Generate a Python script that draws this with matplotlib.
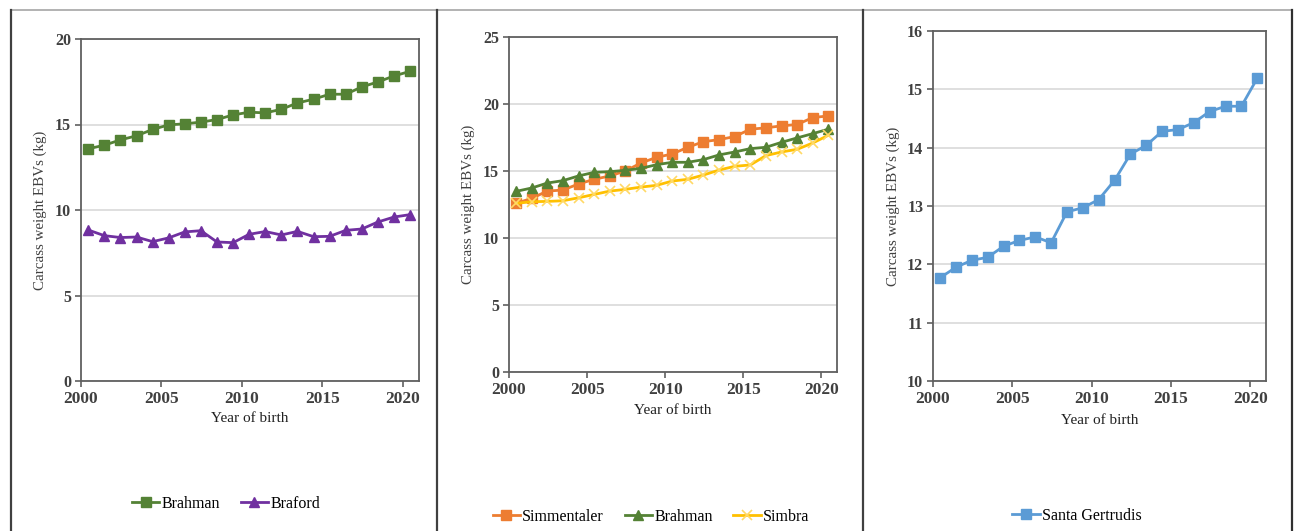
import numpy as np
import matplotlib
matplotlib.use("Agg")
import matplotlib.pyplot as plt
from matplotlib.lines import Line2D

plt.rcParams['font.family'] = ['Liberation Serif', 'DejaVu Serif']

# Carcass weight EBVs (kg) by year of birth
years = np.arange(2000, 2021)

brahman = [13.58, 13.79, 14.10, 14.34, 14.71, 14.98, 15.04, 15.14, 15.29, 15.56, 15.72,
           15.68, 15.89, 16.26, 16.48, 16.77, 16.77, 17.20, 17.49, 17.84, 18.11]
braford = [8.83, 8.50, 8.39, 8.42, 8.15, 8.37, 8.72, 8.79, 8.13, 8.09, 8.58,
           8.74, 8.54, 8.75, 8.44, 8.46, 8.81, 8.89, 9.30, 9.59, 9.73]
simmentaler = [12.58, 12.96, 13.50, 13.58, 14.03, 14.38, 14.63, 15.00, 15.60, 16.02, 16.27,
               16.77, 17.19, 17.34, 17.57, 18.12, 18.22, 18.37, 18.47, 18.99, 19.11]
brahman_b = [13.48, 13.73, 14.10, 14.28, 14.63, 14.90, 14.95, 15.05, 15.20, 15.47, 15.65,
             15.65, 15.85, 16.20, 16.42, 16.67, 16.77, 17.14, 17.47, 17.79, 18.12]
simbra = [12.58, 12.71, 12.73, 12.78, 13.00, 13.25, 13.50, 13.63, 13.80, 13.93, 14.25,
          14.38, 14.70, 15.07, 15.35, 15.45, 16.15, 16.42, 16.62, 17.09, 17.67]
santa_gertrudis = [11.77, 11.95, 12.07, 12.12, 12.31, 12.41, 12.47, 12.37, 12.90, 12.97, 13.11,
                   13.44, 13.89, 14.04, 14.28, 14.31, 14.43, 14.62, 14.71, 14.71, 15.19]

W, H = 1298, 531
fig = plt.figure(figsize=(W / 100, H / 100), dpi=100)

def px_axes(left, top, right, bottom):
    return fig.add_axes([left / W, 1 - bottom / H, (right - left) / W, (bottom - top) / H])

# points sit in the middle of each year interval
xpos = years + 0.45

text_col = '#404040'

def style(ax, ylim, ystep, px_bottom, px_h, label_y, ylab_x_frac):
    ax.set_xlim(2000, 2021)
    ax.set_ylim(*ylim)
    ax.set_xticks(np.arange(2000, 2021, 5))
    ax.set_yticks(np.arange(ylim[0], ylim[1] + 0.01, ystep))
    ax.yaxis.grid(True, color='#d9d9d9', lw=1.2)
    ax.set_axisbelow(True)
    for s in ax.spines.values():
        s.set_color('#606060')
        s.set_linewidth(1.3)
    ax.tick_params(direction='out', length=4, width=1.2, color='#606060',
                   labelcolor=text_col, pad=3)
    for lab in ax.get_xticklabels():
        lab.set_fontsize(12.5)
        lab.set_fontweight('bold')
    for lab in ax.get_yticklabels():
        lab.set_fontsize(11.5)
        lab.set_fontweight('bold')
    ax.set_xlabel('Year of birth', fontsize=11, color='#202020', va='center')
    ax.xaxis.set_label_coords(0.5, -(label_y - px_bottom) / px_h)
    ax.set_ylabel('Carcass weight EBVs (kg)', fontsize=10.8, color=text_col, va='center')
    ax.yaxis.set_label_coords(ylab_x_frac, 0.5)

def legend(ax, cx, cy, ncol):
    ax.legend(loc='center', bbox_to_anchor=(cx / W, 1 - cy / H), bbox_transform=fig.transFigure,
              ncol=ncol, frameon=False, fontsize=11.5, handlelength=1.7, handletextpad=0.15,
              columnspacing=1.3)

# Panel 1: Brahman and Braford
ax1 = px_axes(81, 39, 419, 381)
ax1.plot(xpos, brahman, color='#548235', lw=2, marker='s', ms=6.5, label='Brahman')
ax1.plot(xpos, braford, color='#7030A0', lw=2, marker='^', ms=7.5, label='Braford')
style(ax1, (0, 20), 5, 381, 342, 419, -0.121)
legend(ax1, 226, 504, 2)

# Panel 2: Simmentaler, Brahman and Simbra
ax2 = px_axes(509, 37, 837, 372)
ax2.plot(xpos, simmentaler, color='#ED7D31', lw=2, marker='s', ms=6.5, label='Simmentaler')
ax2.plot(xpos, brahman_b, color='#548235', lw=2, marker='^', ms=7.5, label='Brahman')
ax2.plot(xpos, simbra, color='#FFC000', lw=2, marker='x', ms=7, mew=1.2,
         mec='#FFD966', label='Simbra')
style(ax2, (0, 25), 5, 372, 335, 411, -0.125)
legend(ax2, 651, 517, 3)

# Panel 3: Santa Gertrudis
ax3 = px_axes(933, 31, 1266, 381)
ax3.plot(xpos, santa_gertrudis, color='#5B9BD5', lw=2, marker='s', ms=6.5, label='Santa Gertrudis')
style(ax3, (10, 16), 1, 381, 350, 420, -0.12)
legend(ax3, 1077, 516, 1)

# table-style frame around the three panels
def fline(x0, y0, x1, y1, color, lw):
    fig.add_artist(Line2D([x0 / W, x1 / W], [1 - y0 / H, 1 - y1 / H],
                          transform=fig.transFigure, color=color, lw=lw))

fline(11, 10, 1292, 10, '#a6a6a6', 1.2)
fline(11, 10, 11, H, '#404040', 1.6)
fline(437, 10, 437, H, '#404040', 1.6)
fline(863, 10, 863, H, '#404040', 1.6)
fline(1292, 10, 1292, H, '#303030', 1.6)

fig.savefig('out.png', dpi=100)
